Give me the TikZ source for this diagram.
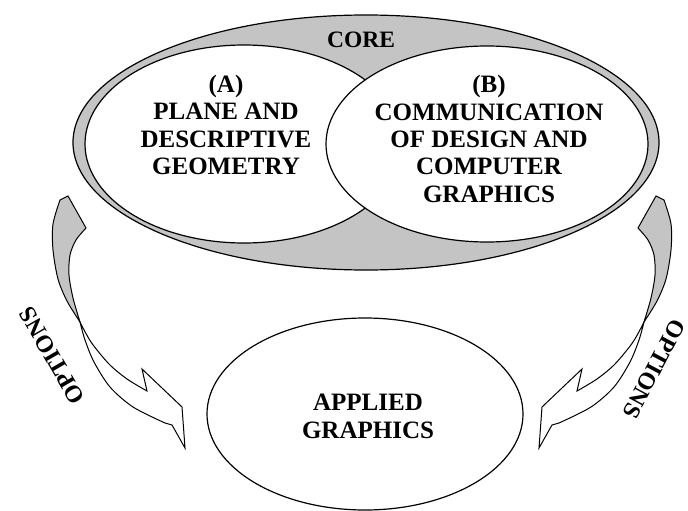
\documentclass[tikz,border=0pt]{standalone}
\usepackage{fontspec}
\setmainfont{Liberation Serif}
\usetikzlibrary{shapes.geometric}
\definecolor{coregray}{RGB}{196,196,196}
\tikzset{
  oval/.style={ellipse, draw=black, line width=1.2pt, inner sep=0pt, outer sep=0pt},
  lbl/.style={font=\bfseries\fontsize{25}{27.3}\selectfont, align=center, inner sep=0pt},
  optlbl/.style={font=\bfseries\fontsize{24}{26}\selectfont, inner sep=0pt},
  ribbon/.style={draw=black, line width=1pt, line join=miter},
}
\newcommand{\optarrow}{%
  \draw[ribbon, fill=coregray] (60,200) -- (68,196) -- (86,228)
    -- plot[smooth] coordinates {(86,228) (76,240) (70,255) (69,275) (73,298) (80,322)}
    -- plot[smooth] coordinates {(80,322) (67,301) (58,279) (53,250) (53,224) (60,200)}
    -- cycle;
  \draw[ribbon, fill=white] (80,322)
    -- plot[smooth] coordinates {(80,322) (91,342) (109,364) (127,379) (147,391)}
    -- (142,369) -- (182,407) -- (185,448) -- (172,425)
    -- plot[smooth] coordinates {(165,423) (133,407) (110,387) (94,362) (85,340) (80,322)}
    -- cycle;
}
\begin{document}
\begin{tikzpicture}[x=1pt, y=-1pt]
\useasboundingbox (0,0) rectangle (688,511);
\fill[white] (0,0) rectangle (688,511);
% core ring
\node[oval, fill=coregray, minimum width=586pt, minimum height=255pt] (core) at (366,142.5) {};
\node[oval, fill=white, minimum width=318pt, minimum height=198pt] (ovA) at (244,144) {};
\node[oval, fill=white, minimum width=322pt, minimum height=196pt] (ovB) at (487,144) {};
\node[lbl, font=\bfseries\fontsize{23.5}{26}\selectfont] (coretxt) at (361,40) {CORE};
\node[lbl] (txtA) at (226,125) {(A)\\PLANE AND\\DESCRIPTIVE\\GEOMETRY};
\node[lbl] (txtB) at (489,139) {(B)\\COMMUNICATION\\OF DESIGN AND\\COMPUTER\\GRAPHICS};
% applied graphics
\node[oval, minimum width=316pt, minimum height=192pt] (applied) at (365,414) {};
\node[lbl, font=\bfseries\fontsize{25}{28}\selectfont] (txtC) at (368,416) {APPLIED\\GRAPHICS};
% option arrows
\optarrow
\begin{scope}[shift={(724,0)}, xscale=-1]
\optarrow
\end{scope}
\node[optlbl, rotate=120] (optL) at (52,356) {OPTIONS};
\node[optlbl, rotate=-118] (optR) at (654,369) {OPTIONS};
\end{tikzpicture}
\end{document}
